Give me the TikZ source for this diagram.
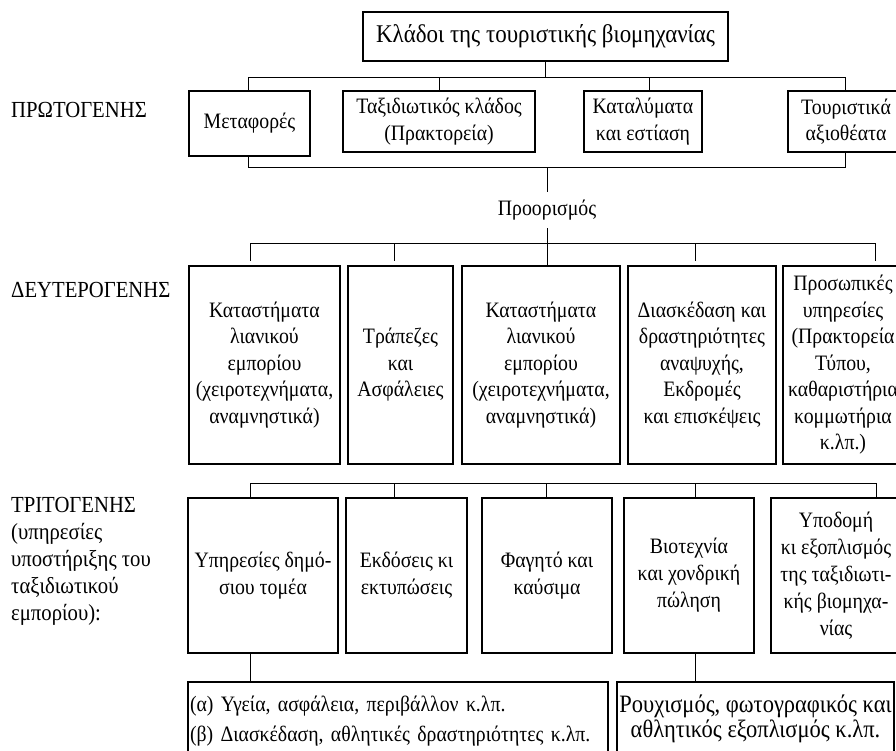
\documentclass[tikz,border=0pt]{standalone}
\usepackage{fontspec}
\setmainfont{Liberation Serif}[FakeStretch=0.9]
\usetikzlibrary{calc}
\newcommand\regfont{\fontsize{22}{26.5}\selectfont}
\newcommand\rowthreefont{\fontsize{22}{27}\selectfont}
\newcommand\bigfont{\fontsize{25.5}{30}\selectfont}
\newcommand\labfont{\fontsize{23}{27}\selectfont}
\newcommand\wideline{\fontsize{22}{30}\selectfont}
\newcommand\bottomfont{\fontsize{25}{24.5}\selectfont}
\begin{document}
\begin{tikzpicture}[x=1pt,y=-1pt,
  box/.style={draw,line width=1.1pt,inner sep=0pt,align=center,font=\regfont},
  conn/.style={line width=1pt},
  lbl/.style={inner sep=0pt,align=left,anchor=west,font=\labfont}]
\clip (0,0) rectangle (896,750);
% top
\node[box,font=\bigfont,minimum width=365pt,minimum height=49pt] (top) at (545.5,36.5) {Κλάδοι της τουριστικής βιομηχανίας};
% row 1
\node[lbl] (l1) at (11,110) {ΠΡΩΤΟΓΕΝΗΣ};
\node[box,minimum width=121pt,minimum height=65pt] (m1) at (249.5,123.5) {Μεταφορές};
\node[box,minimum width=192pt,minimum height=61pt] (m2) at (439,121.5) {Ταξιδιωτικός κλάδος\\(Πρακτορεία)};
\node[box,minimum width=118pt,minimum height=61pt] (m3) at (643,121.5) {Καταλύματα\\και εστίαση};
\node[box,minimum width=116pt,minimum height=61pt] (m4) at (846,121.5) {Τουριστικά\\αξιοθέατα};
\coordinate (a1) at (248,77);
\coordinate (a3) at (649,77);
\coordinate (a4) at (845,77);
\draw[conn] (top.south) -- (top.south |- a1);
\draw[conn] (a1 |- m1.north) -- (a1) -- (a4) -- (a4 |- m4.north);
\draw[conn] (m2.north) -- (m2.north |- a1);
\draw[conn] (a3) -- (a3 |- m3.north);
\coordinate (c1) at (248,167);
\coordinate (c4) at (845,167);
\node[inner sep=0pt,minimum height=36pt,font=\regfont] (dest) at (547,210) {Προορισμός};
\draw[conn] (c1 |- m1.south) -- (c1) -- (c4) -- (c4 |- m4.south);
\draw[conn] (dest.north) -- (dest.north |- c1);
% row 2
\node[lbl] (l2) at (11,290) {ΔΕΥΤΕΡΟΓΕΝΗΣ};
\node[box,minimum width=151pt,minimum height=198pt] (d1) at (264.5,365) {Καταστήματα\\λιανικού\\εμπορίου\\(χειροτεχνήματα,\\αναμνηστικά)};
\node[box,minimum width=105pt,minimum height=198pt] (d2) at (400.5,365) {Τράπεζες\\και\\Ασφάλειες};
\node[box,minimum width=158pt,minimum height=198pt] (d3) at (541,365) {Καταστήματα\\λιανικού\\εμπορίου\\(χειροτεχνήματα,\\αναμνηστικά)};
\node[box,minimum width=148pt,minimum height=198pt] (d4) at (702,365) {Διασκέδαση και\\δραστηριότητες\\αναψυχής,\\Εκδρομές\\και επισκέψεις};
\node[box,minimum width=120pt,minimum height=198pt] (d5) at (843,365) {Προσωπικές\\υπηρεσίες\\(Πρακτορεία\\Τύπου,\\καθαριστήρια\\κομμωτήρια\\κ.λπ.)};
\coordinate (e1) at (250,243);
\coordinate (e2) at (394,243);
\coordinate (e4) at (695,243);
\coordinate (e5) at (875,243);
\draw[conn] (dest.south) -- (dest.south |- d3.north);
\draw[conn] ($(e1)+(0,18)$) -- (e1) -- (e5) -- ($(e5)+(0,18)$);
\draw[conn] (e2) -- ($(e2)+(0,18)$);
\draw[conn] (e4) -- ($(e4)+(0,18)$);
% row 3
\node[lbl] (l3) at (11,561) {ΤΡΙΤΟΓΕΝΗΣ\\(υπηρεσίες\\υποστήριξης του\\ταξιδιωτικού\\εμπορίου):};
\node[box,font=\rowthreefont,minimum width=150pt,minimum height=155pt] (t1) at (263,575.5) {Υπηρεσίες δημό-\\σιου τομέα};
\node[box,font=\rowthreefont,minimum width=121pt,minimum height=155pt] (t2) at (406.5,575.5) {Εκδόσεις κι\\εκτυπώσεις};
\node[box,font=\rowthreefont,minimum width=130pt,minimum height=155pt] (t3) at (547,575.5) {Φαγητό και\\καύσιμα};
\node[box,font=\rowthreefont,minimum width=130pt,minimum height=155pt] (t4) at (689,575.5) {Βιοτεχνία\\και χονδρική\\πώληση};
\node[box,font=\rowthreefont,minimum width=130pt,minimum height=155pt] (t5) at (836,575.5) {Υποδομή\\κι εξοπλισμός\\της ταξιδιωτι-\\κής βιομηχα-\\νίας};
\coordinate (f1) at (250,483);
\coordinate (f2) at (394,483);
\coordinate (f3) at (546,483);
\coordinate (f4) at (695,483);
\coordinate (f5) at (876,483);
\draw[conn] (f1 |- t1.north) -- (f1) -- (f5) -- (f5 |- t5.north);
\draw[conn] (f2) -- (f2 |- t2.north);
\draw[conn] (f3) -- (f3 |- t3.north);
\draw[conn] (f4) -- (f4 |- t4.north);
% row 4
\node[box,font=\wideline,align=left,text width=416pt,inner xsep=2pt,minimum height=78pt] (b1) at (398,721) {(α) Υγεία, ασφάλεια, περιβάλλον κ.λπ.\\(β) Διασκέδαση, αθλητικές δραστηριότητες κ.λπ.};
\node[box,font=\bottomfont,minimum width=277pt,minimum height=74pt] (b2) at (755.5,719) {Ρουχισμός, φωτογραφικός και\\αθλητικός εξοπλισμός κ.λπ.};
\draw[conn] (t1.south -| f1) -- (b1.north -| f1);
\draw[conn] (t4.south -| f4) -- (b2.north -| f4);
\end{tikzpicture}
\end{document}
